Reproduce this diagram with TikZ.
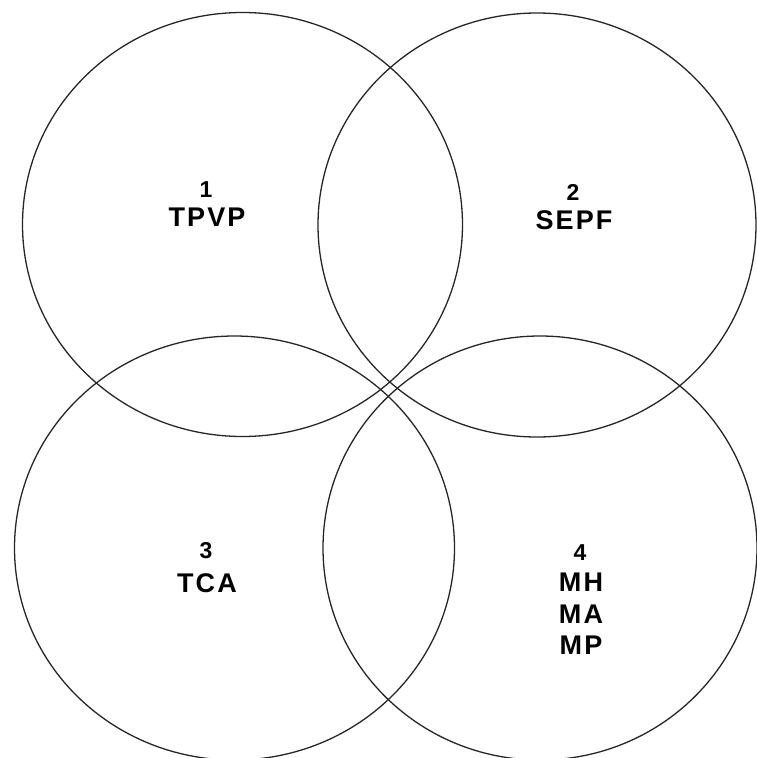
\documentclass[tikz,border=0pt]{standalone}
\usepackage{fontspec}
\setmainfont{Liberation Sans}
\newfontfamily\lblfont[LetterSpace=8]{Liberation Sans}
\usetikzlibrary{shapes.geometric}
\tikzset{
  ring/.style={ellipse, draw=black!85, line width=1.3pt, inner sep=0pt},
  numtxt/.style={inner sep=0pt, anchor=base, font=\fontsize{23}{26}\selectfont\bfseries},
  lbltxt/.style={inner sep=0pt, anchor=north, align=center,
                 font=\fontsize{27}{31.5}\selectfont\lblfont\bfseries}
}
\begin{document}
\begin{tikzpicture}[x=1pt,y=-1pt]
\useasboundingbox (0,0) rectangle (757,758);
\node[ring, minimum width=440pt, minimum height=424pt] (c1) at (242.5,224.5) {};
\node[ring, minimum width=438pt, minimum height=424pt] (c2) at (537,225) {};
\node[ring, minimum width=440pt, minimum height=424pt] (c3) at (234.5,548) {};
\node[ring, minimum width=434pt, minimum height=424pt] (c4) at (540,548) {};
\node[numtxt] (n1) at (206,197) {1};
\node[lbltxt] (l1) at (207,208) {TPVP};
\node[numtxt] (n2) at (573,200) {2};
\node[lbltxt] (l2) at (574,210) {SEPF};
\node[numtxt] (n3) at (206,558) {3};
\node[lbltxt] (l3) at (207,573) {TCA};
\node[numtxt] (n4) at (580,560) {4};
\node[lbltxt] (l4) at (581,573) {MH\\MA\\MP};
\end{tikzpicture}
\end{document}
